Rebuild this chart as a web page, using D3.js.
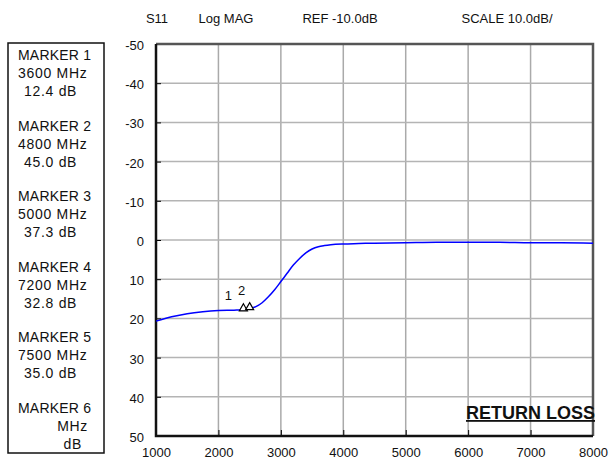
<!DOCTYPE html>
<html>
<head>
<meta charset="utf-8">
<script src="https://cdn.jsdelivr.net/npm/d3@7"></script>
<style>
  body { margin: 0; background: #fff; }
  svg { display: block; font-family: "Liberation Sans", Arial, sans-serif; }
</style>
</head>
<body>
<div id="chart"></div>
<script>
// trace data (MHz, dB return loss)
const freqs = [1000, 1250, 1500, 1750, 2000, 2250, 2400, 2500, 2600, 2700, 2800, 2900, 3000, 3100, 3200, 3300, 3400, 3500, 3600, 3700, 3800, 4000, 4250, 4500, 5000, 5500, 6000, 6500, 7000, 7500, 8000];
const loss = [20.7, 19.6, 18.8, 18.3, 18.0, 17.9, 17.8, 17.5, 17.0, 16.0, 14.5, 12.7, 10.6, 8.5, 6.4, 4.7, 3.3, 2.3, 1.7, 1.4, 1.2, 1.0, 0.9, 0.8, 0.7, 0.6, 0.6, 0.6, 0.7, 0.7, 0.8];

const xTicks = [1000, 2000, 3000, 4000, 5000, 6000, 7000, 8000];
const yTicks = [-50, -40, -30, -20, -10, 0, 10, 20, 30, 40, 50];

const headerLabels = ["S11", "Log MAG", "REF -10.0dB", "SCALE 10.0dB/"];

// marker table on the left
const markerNames = ["MARKER 1", "MARKER 2", "MARKER 3", "MARKER 4", "MARKER 5", "MARKER 6"];
const markerFreqs = ["3600", "4800", "5000", "7200", "7500", ""];
const markerDbs = ["12.4", "45.0", "37.3", "32.8", "35.0", ""];

// markers drawn on the trace
const traceMarkerIds = ["1", "2"];
const traceMarkerFreqs = [2400, 2500];

const W = 609, H = 461;
const pL = 156, pR = 593, pT = 44, pB = 436;

const svg = d3.select("#chart").append("svg").attr("width", W).attr("height", H);

const x = d3.scaleLinear().domain([1000, 8000]).range([pL, pR]);
const y = d3.scaleLinear().domain([-50, 50]).range([pT, pB]);

// header
const headerX = [157, 226, 340, 507];
svg.selectAll("text.hdr").data(headerLabels).enter().append("text")
  .attr("class", "hdr")
  .attr("x", (d, i) => headerX[i]).attr("y", 23)
  .attr("text-anchor", "middle")
  .style("font-size", "13px").style("fill", "#111")
  .text(d => d);

// grid
const grid = svg.append("g");
grid.selectAll("line.v").data(xTicks.slice(1, -1)).enter().append("line")
  .attr("x1", d => x(d)).attr("x2", d => x(d))
  .attr("y1", pT).attr("y2", pB)
  .attr("stroke", "#aaa").attr("stroke-width", 1.5);
grid.selectAll("line.h").data(yTicks.slice(1, -1)).enter().append("line")
  .attr("y1", d => y(d)).attr("y2", d => y(d))
  .attr("x1", pL).attr("x2", pR)
  .attr("stroke", "#b4b4b4").attr("stroke-width", 1.5);

// axes with inner ticks (plain hyphen for negatives)
const fmt = d => String(d);
const xAxis = svg.append("g").attr("transform", `translate(0,${pB})`)
  .call(d3.axisBottom(x).tickValues(xTicks).tickSizeInner(-6).tickSizeOuter(0).tickPadding(12).tickFormat(fmt));
xAxis.select(".domain").remove();
xAxis.selectAll("line").attr("stroke", "#000");
xAxis.selectAll("text").style("font-size", "13px").style("font-family", "Liberation Sans, Arial, sans-serif").attr("fill", "#111");

const yAxis = svg.append("g").attr("transform", `translate(${pL},0)`)
  .call(d3.axisLeft(y).tickValues(yTicks).tickSizeInner(-5).tickSizeOuter(0).tickPadding(12).tickFormat(fmt));
yAxis.select(".domain").remove();
yAxis.selectAll("line").attr("stroke", "#000");
yAxis.selectAll("text").style("font-size", "13px").style("font-family", "Liberation Sans, Arial, sans-serif").attr("fill", "#111")
  .attr("dy", "0.42em");

// frame
svg.append("path")
  .attr("d", `M${pL},${pT}H${pR}V${pB}`)
  .attr("fill", "none").attr("stroke", "#555").attr("stroke-width", 2.5);
svg.append("path")
  .attr("d", `M${pL},${pT}V${pB}H${pR}`)
  .attr("fill", "none").attr("stroke", "#111").attr("stroke-width", 2.5);

// trace
const pts = freqs.map((f, i) => [f, loss[i]]);
const line = d3.line().x(d => x(d[0])).y(d => y(d[1])).curve(d3.curveMonotoneX);
svg.append("path").datum(pts)
  .attr("d", line)
  .attr("fill", "none").attr("stroke", "#0000ff").attr("stroke-width", 1.5);

// trace markers: open triangles sitting on the trace
const interp = f => {
  const i = d3.bisectLeft(freqs, f);
  if (freqs[i] === f) return loss[i];
  const t = (f - freqs[i - 1]) / (freqs[i] - freqs[i - 1]);
  return loss[i - 1] + t * (loss[i] - loss[i - 1]);
};
const labelOff = [[-15, -10], [-8, -14]];
traceMarkerFreqs.forEach((f, i) => {
  const px = x(f), py = y(interp(f));
  svg.append("path")
    .attr("d", `M${px},${py - 6}l4,7h-8z`)
    .attr("fill", "#fff").attr("stroke", "#000").attr("stroke-width", 1.2);
  svg.append("text")
    .attr("x", px + labelOff[i][0]).attr("y", py + labelOff[i][1])
    .attr("text-anchor", "middle")
    .style("font-size", "13px").style("fill", "#111")
    .text(traceMarkerIds[i]);
});

// return loss label
svg.append("text")
  .attr("x", 595).attr("y", 419)
  .attr("text-anchor", "end")
  .style("font-size", "18px").style("font-weight", "bold")
  .style("text-decoration", "underline").style("fill", "#111")
  .text("RETURN LOSS");

// marker box
svg.append("rect").attr("x", 8).attr("y", 43).attr("width", 96).attr("height", 410)
  .attr("fill", "none").attr("stroke", "#111").attr("stroke-width", 1.5);
const mk = svg.append("g").style("font-size", "14px").style("fill", "#111");
markerNames.forEach((name, i) => {
  const cy = 60 + i * 70.6;
  const has = markerFreqs[i] !== "";
  mk.append("text").attr("x", 18).attr("y", cy).style("letter-spacing", "0.2px").text(name);
  mk.append("text").attr("x", has ? 18 : 88).attr("y", cy + 18)
    .attr("text-anchor", has ? "start" : "end")
    .style("letter-spacing", "0.7px")
    .text(has ? markerFreqs[i] + " MHz" : "MHz");
  mk.append("text").attr("x", has ? 24 : 82).attr("y", cy + 36)
    .attr("text-anchor", has ? "start" : "end")
    .style("letter-spacing", "0.7px")
    .text(has ? markerDbs[i] + " dB" : "dB");
});
</script>
</body>
</html>
